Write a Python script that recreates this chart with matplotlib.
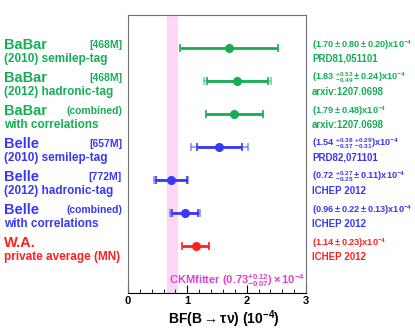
import numpy as np
import matplotlib
matplotlib.use("Agg")
import matplotlib.pyplot as plt
import matplotlib.transforms as mtransforms

plt.rcParams['font.family'] = 'Liberation Sans'
plt.rcParams['font.weight'] = 'bold'
plt.rcParams['axes.labelweight'] = 'bold'
plt.rcParams['mathtext.fontset'] = 'custom'
plt.rcParams['mathtext.rm'] = 'Liberation Sans:bold'
plt.rcParams['mathtext.it'] = 'Liberation Sans:bold'
plt.rcParams['mathtext.bf'] = 'Liberation Sans:bold'

# measurements, top to bottom
names = ['BaBar', 'BaBar', 'BaBar', 'Belle', 'Belle', 'Belle', 'W.A.']
tags = ['[468M]', '[468M]', '(combined)', '[657M]', '[772M]', '(combined)', '']
subs = ['(2010) semilep-tag', '(2012) hadronic-tag', 'with correlations',
        '(2010) semilep-tag', '(2012) hadronic-tag', 'with correlations',
        'private average (MN)']
values = np.array([1.70, 1.83, 1.79, 1.54, 0.72, 0.96, 1.14])
stat_up = np.array([0.80, 0.53, 0.48, 0.38, 0.27, 0.22, 0.23])
stat_dn = np.array([0.80, 0.49, 0.48, 0.37, 0.25, 0.22, 0.23])
syst_up = np.array([0.20, 0.24, 0.0, 0.29, 0.11, 0.13, 0.0])
syst_dn = np.array([0.20, 0.24, 0.0, 0.31, 0.11, 0.13, 0.0])
show_stat = [False, True, False, True, True, True, False]
results = [r'$(1.70\pm0.80\pm0.20)x10^{-4}$',
           r'$(1.83\ ^{+0.53}_{-0.49}\pm0.24)x10^{-4}$',
           r'$(1.79\pm0.48)x10^{-4}$',
           r'$(1.54\ ^{+0.38}_{-0.37}\ ^{+0.29}_{-0.31})x10^{-4}$',
           r'$(0.72\ ^{+0.27}_{-0.25}\pm0.11)x10^{-4}$',
           r'$(0.96\pm0.22\pm0.13)x10^{-4}$',
           r'$(1.14\pm0.23)x10^{-4}$']
refs = ['PRD81,051101', 'arxiv:1207.0698', 'arxiv:1207.0698', 'PRD82,071101',
        'ICHEP 2012', 'ICHEP 2012', 'ICHEP 2012']
colors = ['#17ad55'] * 3 + ['#3838f5'] * 3 + ['#ff2020']

# CKMfitter prediction
ckm_val = 0.73
ckm_up = 0.12
ckm_dn = 0.07

fig = plt.figure(figsize=(4.15, 3.32), dpi=100)
ax = fig.add_axes([0.3084, 0.1166, 0.4289, 0.8373])

ypos = np.arange(len(values), 0, -1)
ax.axvspan(ckm_val - ckm_dn, ckm_val + ckm_up, color='#ffd6f6', lw=0, zorder=0)

tot_up = np.sqrt(stat_up**2 + syst_up**2)
tot_dn = np.sqrt(stat_dn**2 + syst_dn**2)
for i in range(len(values)):
    c = colors[i]
    if show_stat[i]:
        ax.errorbar(values[i], ypos[i], xerr=[[tot_dn[i]], [tot_up[i]]], fmt='none',
                    ecolor=c, alpha=0.55, elinewidth=1.2, capsize=3, capthick=1.2)
        ax.errorbar(values[i], ypos[i], xerr=[[stat_dn[i]], [stat_up[i]]], fmt='o',
                    color=c, ms=5.5, elinewidth=2, capsize=3, capthick=1.2)
    else:
        ax.errorbar(values[i], ypos[i], xerr=[[tot_dn[i]], [tot_up[i]]], fmt='o',
                    color=c, ms=5.5, elinewidth=2, capsize=3, capthick=1.2)

ax.set_xlim(0, 3)
ax.set_ylim(-0.43, 7.99)
ax.set_yticks([])
ax.set_xticks([0, 1, 2, 3])
ax.set_xticks(np.arange(0, 3.01, 0.2), minor=True)
ax.tick_params(axis='x', which='major', direction='in', length=6, labelsize=8, pad=2)
ax.tick_params(axis='x', which='minor', direction='in', length=3)
for s in ['top', 'right', 'left']:
    ax.spines[s].set_color('#707070')
ax.set_xlabel(r'BF(B$\rightarrow\tau\nu$) (10$^{-4}$)', fontsize=10)
ax.xaxis.set_label_coords(0.54, -0.056, transform=ax.transAxes)
ax.xaxis.label.set_va('top')

ax.text(2.98, -0.04,
        r'CKMfitter $(0.73^{+0.12}_{-0.07})\times10^{-4}$',
        color='#e040d8', fontsize=8, ha='right', va='center')

tr = mtransforms.blended_transform_factory(fig.transFigure, ax.transData)
for i in range(len(values)):
    y = ypos[i]
    c = colors[i]
    fig.text(0.01, y + 0.1, names[i], transform=tr, color=c, fontsize=10.5,
             ha='left', va='center')
    fig.text(0.294, y + 0.1, tags[i], transform=tr, color=c, fontsize=7.5,
             ha='right', va='center')
    fig.text(0.01, y - 0.33, subs[i], transform=tr, color=c, fontsize=8.5,
             ha='left', va='center')
    fig.text(0.752, y + 0.1, results[i], transform=tr, color=c, fontsize=6.6,
             ha='left', va='center')
    fig.text(0.752, y - 0.33, refs[i], transform=tr, color=c, fontsize=7,
             ha='left', va='center')

fig.savefig('out.png', dpi=100)
